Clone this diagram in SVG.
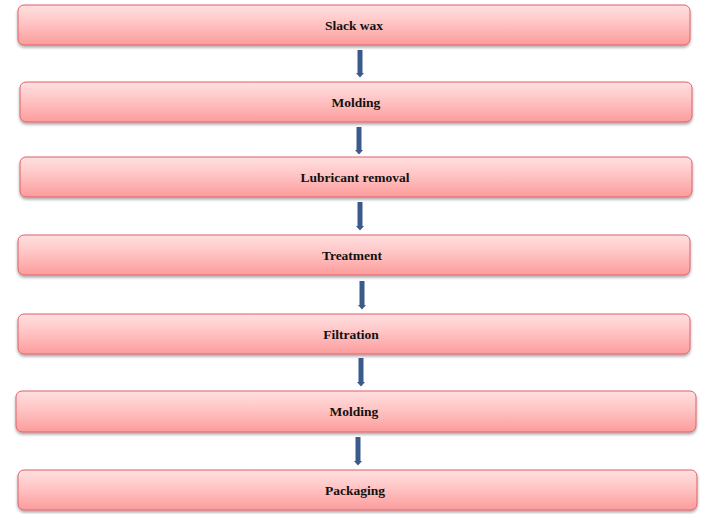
<svg xmlns="http://www.w3.org/2000/svg" width="707" height="514" viewBox="0 0 707 514">
<style>
.box{fill:url(#g);stroke:#e0606a;stroke-width:1;filter:url(#sh)}
.lbl{font-family:"Liberation Serif","Times New Roman",serif;font-weight:bold;font-size:13.5px;fill:#111;text-anchor:middle}
.arr{stroke:#3a5a8c;stroke-width:5;fill:none;marker-end:url(#ah)}
</style>
<defs>
<linearGradient id="g" x1="0" y1="0" x2="0" y2="1">
<stop offset="0" stop-color="#ffe0e0"/>
<stop offset="0.45" stop-color="#ffc4c4"/>
<stop offset="1" stop-color="#fc9c9c"/>
</linearGradient>
<filter id="sh" x="-5%" y="-20%" width="110%" height="160%">
<feGaussianBlur in="SourceAlpha" stdDeviation="1.5"/>
<feOffset dy="2" result="b"/>
<feComponentTransfer><feFuncA type="linear" slope="0.35"/></feComponentTransfer>
<feMerge><feMergeNode/><feMergeNode in="SourceGraphic"/></feMerge>
</filter>
<marker id="ah" markerWidth="6" markerHeight="10" refX="0.5" refY="5" orient="auto" markerUnits="userSpaceOnUse">
<path d="M0,0.5 L0,9.5 L5,5 Z" fill="#3a5a8c"/>
</marker>
</defs>
<g id="connectors">
<line class="arr" x1="360" y1="50" x2="360" y2="73"/>
<line class="arr" x1="359" y1="127" x2="359" y2="150"/>
<line class="arr" x1="360" y1="202" x2="360" y2="226"/>
<line class="arr" x1="362" y1="281" x2="362" y2="305"/>
<line class="arr" x1="361" y1="358" x2="361" y2="382"/>
<line class="arr" x1="358" y1="437" x2="358" y2="461"/>
</g>
<g id="n1"><rect class="box" x="18" y="5" width="672" height="40" rx="6"/><text class="lbl" x="354" y="30">Slack wax</text></g>
<g id="n2"><rect class="box" x="20" y="82" width="672" height="40" rx="6"/><text class="lbl" x="356" y="107">Molding</text></g>
<g id="n3"><rect class="box" x="20" y="157" width="672" height="40" rx="6"/><text class="lbl" x="355" y="182">Lubricant removal</text></g>
<g id="n4"><rect class="box" x="18" y="235" width="672" height="40" rx="6"/><text class="lbl" x="352" y="260">Treatment</text></g>
<g id="n5"><rect class="box" x="18" y="314" width="672" height="40" rx="6"/><text class="lbl" x="351" y="339">Filtration</text></g>
<g id="n6"><rect class="box" x="16" y="391" width="680" height="41" rx="6"/><text class="lbl" x="354" y="416">Molding</text></g>
<g id="n7"><rect class="box" x="18" y="470" width="679" height="40" rx="6"/><text class="lbl" x="355" y="495">Packaging</text></g>
</svg>
